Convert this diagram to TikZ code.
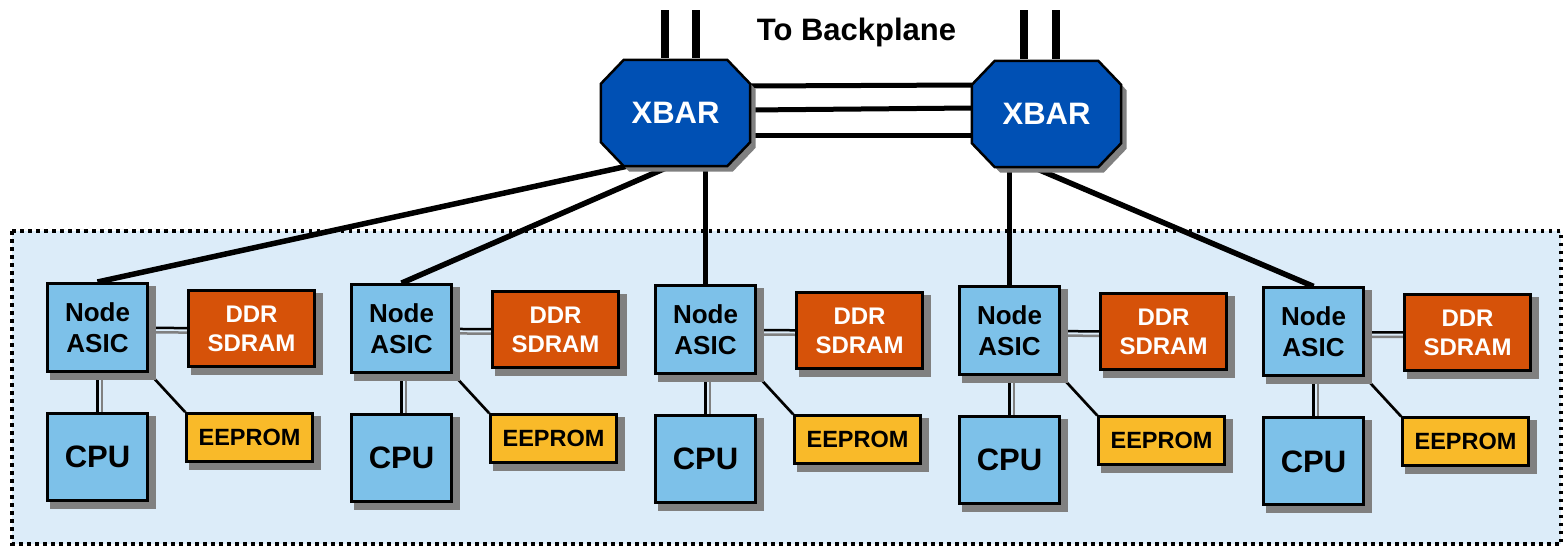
\documentclass[tikz,border=0pt]{standalone}
\usepackage{fontspec}
\setmainfont{Liberation Sans}
\usetikzlibrary{calc}
\pgfdeclarelayer{bg}
\pgfdeclarelayer{conn}
\pgfdeclarelayer{shadow}
\pgfsetlayers{bg,conn,shadow,main}
\definecolor{asicblue}{HTML}{7DC1E9}
\definecolor{ddrred}{HTML}{D65209}
\definecolor{eepyellow}{HTML}{F9BA29}
\definecolor{xbarblue}{HTML}{0050B4}
\definecolor{shadowgray}{HTML}{808080}
\definecolor{areablue}{RGB}{220,236,249}
\newcommand\octpath[3]{([xshift=23pt+#2,yshift=-1.5pt+#3]#1.north west) -- ([xshift=-23pt+#2,yshift=-1.5pt+#3]#1.north east)
      -- ([xshift=#2,yshift=-25.5pt+#3]#1.north east) -- ([xshift=#2,yshift=25.5pt+#3]#1.south east)
      -- ([xshift=-23pt+#2,yshift=1.5pt+#3]#1.south east) -- ([xshift=23pt+#2,yshift=1.5pt+#3]#1.south west)
      -- ([xshift=#2,yshift=25.5pt+#3]#1.south west) -- ([xshift=#2,yshift=-25.5pt+#3]#1.north west) -- cycle}
\newcommand\boxshadow[1]{\fill[shadowgray] ([xshift=3.5pt,yshift=-6.5pt]#1.south west) rectangle ([xshift=6.5pt,yshift=-3.5pt]#1.north east);}
\begin{document}
\begin{tikzpicture}[x=1pt,y=-1pt,
  box/.style={draw=black, line width=3pt, inner sep=0pt, align=center},
  asicbox/.style={box, fill=asicblue, minimum width=100pt, minimum height=88pt,
     font=\fontsize{26}{31}\selectfont\bfseries},
  cpubox/.style={box, fill=asicblue, minimum width=100pt, minimum height=87pt,
     font=\fontsize{31}{36}\selectfont\bfseries},
  ddrbox/.style={box, fill=ddrred, text=white, minimum width=126pt, minimum height=76pt,
     font=\fontsize{24}{29}\selectfont\bfseries},
  eepbox/.style={box, fill=eepyellow, minimum width=126pt, minimum height=48pt,
     font=\fontsize{23.5}{28}\selectfont\bfseries},
  xbarbox/.style={text=white, inner sep=0pt, minimum width=149pt, minimum height=109pt,
     font=\fontsize{31}{36}\selectfont\bfseries},
  octstyle/.style={fill=xbarblue, draw=black, line width=2.5pt, line join=miter},
  conn/.style={line width=2.5pt, draw=black},
  connshadow/.style={line width=2.5pt, draw=shadowgray},
  thickline/.style={line width=5.5pt, draw=black},
  bpline/.style={line width=7.5pt, draw=black},
  area/.style={fill=areablue, draw=black, line width=3.3pt, dash pattern=on 3.5pt off 4.5pt}
]
\useasboundingbox (0,0) rectangle (1564,546);

% XBAR nodes
\node[xbarbox] (x1) at (675.5,113) {XBAR};
\node[xbarbox] (x2) at (1046.5,114) {XBAR};

% title
\node[font=\fontsize{31}{36}\selectfont\bfseries, anchor=base, inner sep=0pt] (title) at (856.5,40) {To Backplane};

% groups
\foreach \i in {1,...,5}{
  \pgfmathsetmacro\dx{(\i-1)*304}
  \pgfmathsetmacro\dy{(\i-1)*1.1}
  \node[asicbox] (a\i) at (97.5+\dx,327.5+\dy) {Node\\ASIC};
  \node[ddrbox] (d\i) at (251.5+\dx,328.5+\dy) {DDR\\SDRAM};
  \node[eepbox] (e\i) at (249.5+\dx,437.5+\dy) {EEPROM};
  \node[cpubox] (c\i) at (97.5+\dx,457+\dy) {CPU};
}

% backplane anchors
\coordinate (bp1) at (665,10);
\coordinate (bp2) at (696,10);
\coordinate (bp3) at (1024,10);
\coordinate (bp4) at (1056,10);

\begin{pgfonlayer}{bg}
  \path[area] (12,231) rectangle (1561,544);
\end{pgfonlayer}

\begin{pgfonlayer}{conn}
  \foreach \i in {1,...,5}{
    \draw[connshadow] ([xshift=4.5pt,yshift=-4.5pt]a\i.center) -- ([xshift=4.5pt,yshift=-4.5pt]d\i.center);
    \draw[connshadow] ([xshift=4.5pt,yshift=-4.5pt]a\i.center) -- ([xshift=4.5pt,yshift=-4.5pt]c\i.center);
    \draw[connshadow] ([xshift=4.5pt,yshift=-4.5pt]a\i.south east) -- ([xshift=4.5pt,yshift=-4.5pt]e\i.north west);
    \draw[conn] (a\i) -- (d\i);
    \draw[conn] (a\i) -- (c\i);
    \draw[conn] (a\i.south east) -- (e\i.north west);
  }
  % XBAR to ASIC links
  \draw[thickline] ([xshift=-48.5pt,yshift=1.5pt]x1.south) -- (a1.north);
  \draw[thickline] ([xshift=-5.5pt,yshift=1.5pt]x1.south) -- (a2.north);
  \draw[thickline] (a3.north |- x1.south) -- (a3.north);
  \draw[thickline] (a4.north |- x2.south) -- (a4.north);
  \draw[thickline] ([xshift=-13.5pt,yshift=1.5pt]x2.south) -- (a5.north);
  % backplane
  \draw[bpline] (bp1) -- (bp1 |- x1.north);
  \draw[bpline] (bp2) -- (bp2 |- x1.north);
  \draw[bpline] (bp3) -- (bp3 |- x2.north);
  \draw[bpline] (bp4) -- (bp4 |- x2.north);
  % interconnect
  \draw[thickline, line width=5pt] ([yshift=27pt]x1.east) -- ([yshift=29pt]x2.west);
  \draw[thickline, line width=5pt] ([yshift=3pt]x1.east) -- ([yshift=6pt]x2.west);
  \draw[thickline, line width=5pt] ([yshift=-22pt]x1.east) -- ([yshift=-21pt]x2.west);
\end{pgfonlayer}

\begin{pgfonlayer}{shadow}
  \foreach \i in {1,...,5}{
    \boxshadow{a\i}
    \boxshadow{d\i}
    \boxshadow{e\i}
    \boxshadow{c\i}
  }
  % octagons with shadows
  \foreach \n in {x1,x2}{
    \fill[shadowgray] \octpath{\n}{5.5pt}{-5.5pt};
    \path[octstyle] \octpath{\n}{0pt}{0pt};
  }
\end{pgfonlayer}
\end{tikzpicture}
\end{document}
